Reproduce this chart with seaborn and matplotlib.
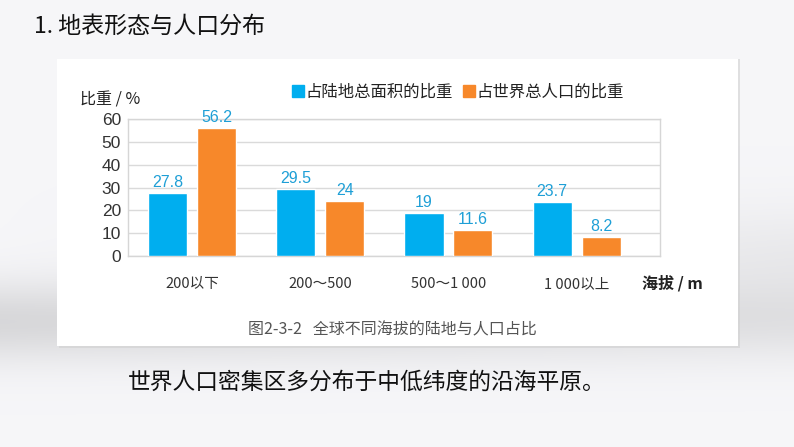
import numpy as np
import pandas as pd
import matplotlib
matplotlib.use("Agg")
import matplotlib.pyplot as plt
import seaborn as sns
from matplotlib.patches import Rectangle
from matplotlib.lines import Line2D

# ---- data ----
categories = ["200以下", "200～500", "500～1 000", "1 000以上"]
land_share = [27.8, 29.5, 19, 23.7]
pop_share = [56.2, 24, 11.6, 8.2]
series = ["占陆地总面积的比重", "占世界总人口的比重"]
y_ticks = [0, 10, 20, 30, 40, 50, 60]

df = pd.DataFrame({
    "cat": categories * 2,
    "val": land_share + pop_share,
    "series": [series[0]] * len(categories) + [series[1]] * len(categories),
})

sns.set_theme(style="white")
plt.rcParams["font.family"] = ["Noto Sans CJK SC", "DejaVu Sans"]

W, H = 794, 447
fig = plt.figure(figsize=(W / 100, H / 100), dpi=100)

def fx(x):
    return x / W

def fy(y):
    return 1 - y / H

# ---- slide background ----
bg = fig.add_axes([0, 0, 1, 1], zorder=-10)
yy = np.linspace(0, 1, H)[:, None]
xx = np.linspace(0, 1, W)[None, :]
base = 0.975 - 0.12 * np.exp(-((yy - 0.72) / 0.09) ** 2) * (1.0 - 0.35 * xx)
base = base - 0.05 * np.exp(-((yy - 0.58) / 0.12) ** 2) * xx
img = np.clip(base, 0, 1)
bg.imshow(np.dstack([img * 0.99, img * 0.99, img]), aspect="auto", extent=[0, 1, 0, 1])
bg.set_axis_off()

# white panel
fig.patches.append(Rectangle((fx(59), fy(348)), fx(738 - 57), (348 - 59) / H,
                             transform=fig.transFigure, facecolor="#d0d0d0",
                             edgecolor="none", zorder=-5, alpha=0.6))
fig.patches.append(Rectangle((fx(57), fy(346)), fx(738 - 57), (346 - 59) / H,
                             transform=fig.transFigure, facecolor="white",
                             edgecolor="none", zorder=-4))

# ---- chart ----
ax = fig.add_axes([fx(128), fy(256), fx(660 - 128), (256 - 119) / H])
ax.set_facecolor("none")
colors = ["#00AEEF", "#F7882A"]
sns.barplot(data=df, x="cat", y="val", hue="series", hue_order=series,
            order=categories, palette=colors, width=0.763, gap=0.2,
            saturation=1, ax=ax, legend=False, zorder=3)

for cont in ax.containers:
    ax.bar_label(cont, fmt="%g", padding=2, color="#1E9FD6", fontsize=11.5,
                 family=["Liberation Sans", "DejaVu Sans"])

ax.set_ylim(0, 60)
ax.set_yticks(y_ticks)
ax.set_xlim(-0.5, len(categories) - 0.35)
ax.yaxis.grid(True, color="#dadada", linewidth=1, zorder=0)
ax.set_axisbelow(True)
for s in ax.spines.values():
    s.set_color("#d6d6d6")
    s.set_linewidth(1)
ax.tick_params(axis="y", length=0, pad=5, labelsize=12.5, labelcolor="#333333")
ax.tick_params(axis="x", length=0, pad=15, labelsize=10.5, labelcolor="#333333")
for lab in ax.get_yticklabels():
    lab.set_family(["Liberation Sans", "DejaVu Sans"])
ax.set_xlabel("")
ax.set_ylabel("")

# axis titles
fig.text(fx(80), fy(100), "比重 / %", fontsize=11.5, color="#222222", va="center", ha="left")
fig.text(fx(642), fy(283), "海拔 / m", fontsize=11.5, color="#222222", va="center",
         ha="left", fontweight="bold")

# legend
handles = [Line2D([0], [0], marker="s", linestyle="none", markersize=8,
                  markerfacecolor=c, markeredgecolor=c) for c in colors]
fig.legend(handles, series, loc="center", bbox_to_anchor=(fx(458), fy(92)),
           ncol=2, frameon=False, fontsize=11.8, handletextpad=0.05,
           columnspacing=0.6, handlelength=0.8, labelcolor="#222222",
           prop={"weight": "medium", "size": 11.8})

# caption
fig.text(fx(392), fy(330), "图2-3-2   全球不同海拔的陆地与人口占比", fontsize=11.5,
         color="#555555", ha="center", va="center")

# slide title and text
fig.text(fx(34), fy(26), "1. 地表形态与人口分布", fontsize=16.6, color="#111111",
         ha="left", va="center")
fig.text(fx(128), fy(382), "世界人口密集区多分布于中低纬度的沿海平原。", fontsize=16.4,
         color="#111111", ha="left", va="center")

fig.savefig("out.png", dpi=100)
